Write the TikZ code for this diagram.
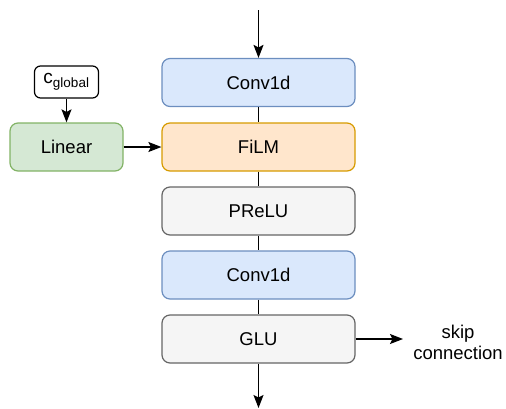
\documentclass[tikz,border=0pt]{standalone}
\usepackage{fontspec}
\setmainfont{Liberation Sans}
\usetikzlibrary{arrows.meta}
\definecolor{bluefill}{HTML}{DAE8FC}\definecolor{bluedraw}{HTML}{6C8EBF}
\definecolor{orangefill}{HTML}{FFE6CC}\definecolor{orangedraw}{HTML}{D79B00}
\definecolor{greyfill}{HTML}{F5F5F5}\definecolor{greydraw}{HTML}{666666}
\definecolor{greenfill}{HTML}{D5E8D4}\definecolor{greendraw}{HTML}{82B366}
\tikzset{
  block/.style={rounded corners=8pt, line width=1.2pt, minimum width=193pt,
    minimum height=48pt, inner sep=0pt, font=\fontsize{18.5}{22}\selectfont},
  bluebox/.style={block, fill=bluefill, draw=bluedraw},
  orangebox/.style={block, fill=orangefill, draw=orangedraw},
  greybox/.style={block, fill=greyfill, draw=greydraw},
  greenbox/.style={block, fill=greenfill, draw=greendraw, minimum width=113pt},
  arr/.style={line width=1.2pt, -{Stealth[length=13pt,width=10pt,inset=2.5pt]}},
  lnk/.style={line width=1.2pt},
}
\begin{document}
\begin{tikzpicture}[x=1pt,y=-1pt]
\useasboundingbox (0,0) rectangle (506,408);
\node[bluebox]   (conv1) at (258.5,82.5)  {Conv1d};
\node[orangebox] (film)  at (258.5,147)   {FiLM};
\node[greybox]   (prelu) at (258.5,211)   {PReLU};
\node[bluebox]   (conv2) at (258.5,275)   {Conv1d};
\node[greybox]   (glu)   at (258.5,339)   {GLU};
\node[greenbox]  (lin)   at (66.5,147)    {Linear};
\node[draw, rounded corners=6pt, line width=1.2pt, fill=white,
      minimum width=64pt, minimum height=32pt, inner sep=0pt,
      font=\fontsize{19}{22}\selectfont] (cg) at (66.5,82)
      {c\textsubscript{\fontsize{13.5}{15}\selectfont global}};
\node[font=\fontsize{18.5}{21}\selectfont, align=center] (skip) at (458,342)
      {skip\\connection};
\coordinate (in) at (258.5,10);
\coordinate (out) at (258.5,408);
\coordinate (skipend) at (403,339);
\draw[arr] (in) -- (conv1);
\draw[lnk] (conv1) -- (film);
\draw[lnk] (film) -- (prelu);
\draw[lnk] (prelu) -- (conv2);
\draw[lnk] (conv2) -- (glu);
\draw[arr] (glu) -- (out);
\draw[arr] (glu) -- (skipend);
\draw[arr] (cg) -- (lin);
\draw[arr] (lin) -- (film);
\end{tikzpicture}
\end{document}
